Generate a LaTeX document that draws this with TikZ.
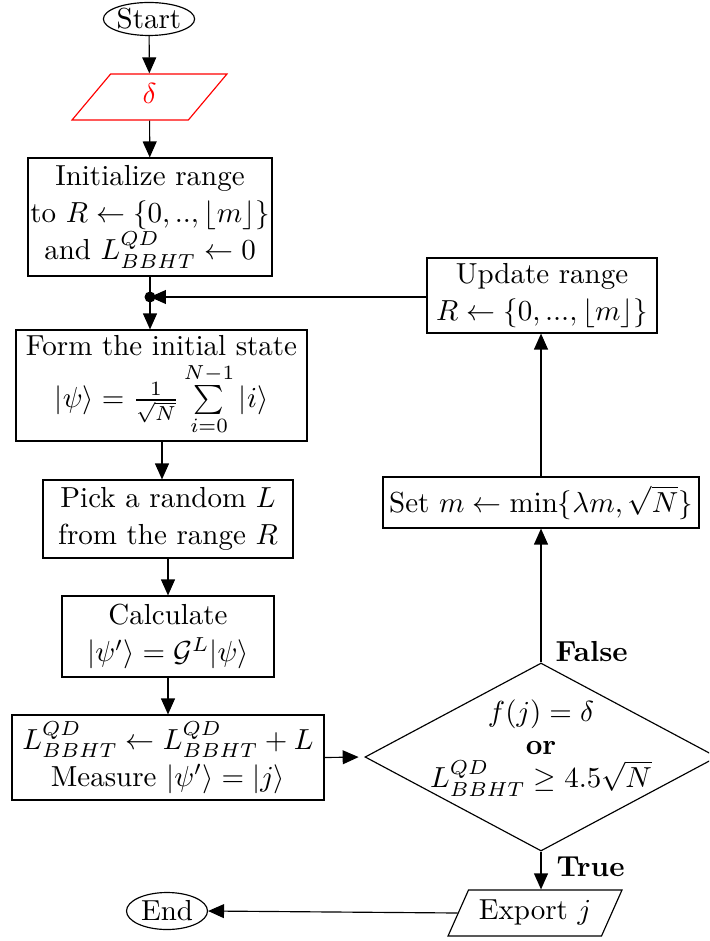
\documentclass[tikz,border=0pt]{standalone}
\usepackage{amsmath,amssymb}
\usetikzlibrary{shapes.geometric,arrows.meta}
\newdimen\pxu \pxu=0.345pt
\begin{document}
\begin{tikzpicture}[x=0.345pt,y=-0.345pt,
  every node/.style={font=\fontsize{10}{12.8}\selectfont},
  procbox/.style={draw,rectangle,align=center,inner sep=0pt},
  term/.style={draw,ellipse,inner sep=0pt},
  iobox/.style={draw,trapezium,trapezium stretches body,inner xsep=0pt,inner ysep=3.2pt,
                text height=7pt,text depth=2.5pt,align=center},
  flow/.style={-{Triangle[length=5.5pt,width=4.8pt]}},
  lbl/.style={font=\fontsize{10}{12}\selectfont\bfseries,inner sep=0pt}]
\useasboundingbox (0,0) rectangle (709,941);
\clip (0,0) rectangle (709,941);

% left column
\node[term,minimum width=82\pxu,minimum height=33\pxu] (start) at (149,19) {Start};
\node[iobox,draw=red,text=red,trapezium left angle=50,trapezium right angle=130,
      minimum width=155\pxu] (delta) at (149.5,97) {$\delta$};
\node[procbox,minimum width=244\pxu,minimum height=118\pxu] (init) at (150,217)
  {Initialize range\\to $R\leftarrow\{0,..,\lfloor m\rfloor\}$\\and $L^{QD}_{BBHT}\leftarrow 0$};
\coordinate (merge) at (150,297);
\node[procbox,minimum width=291\pxu,minimum height=111\pxu] (form) at (161.5,385.5)
  {Form the initial state\\[1.5pt]$|\psi\rangle=\frac{1}{\sqrt{N}}\sum\limits_{i=0}^{N-1}|i\rangle$};
\node[procbox,minimum width=250\pxu,minimum height=78\pxu] (pick) at (168,519)
  {Pick a random $L$\\from the range $R$};
\node[procbox,minimum width=212\pxu,minimum height=81\pxu] (calc) at (168,636.5)
  {Calculate\\$|\psi'\rangle=\mathcal{G}^L|\psi\rangle$};
\node[procbox,minimum width=312\pxu,minimum height=85\pxu] (lupd) at (168,757.5)
  {$L^{QD}_{BBHT}\leftarrow L^{QD}_{BBHT}+L$\\Measure $|\psi'\rangle=|j\rangle$};

% right column: decision diamond with its condition text
\node[draw,diamond,inner sep=0pt,minimum width=352\pxu,minimum height=188\pxu] (test) at (541,757) {};
\node[align=center,inner sep=0pt,font=\fontsize{10}{11.5}\selectfont] (cond) at (541,748)
  {$f(j)=\delta$\\\textbf{or}\\$L^{QD}_{BBHT}\geq 4.5\sqrt{N}$};
\node[procbox,minimum width=316\pxu,minimum height=51\pxu] (setm) at (541,502.5)
  {Set $m\leftarrow\min\{\lambda m,\sqrt{N}\}$};
\node[procbox,minimum width=230\pxu,minimum height=75\pxu] (uprange) at (542,295.5)
  {Update range\\$R\leftarrow\{0,...,\lfloor m\rfloor\}$};
\node[iobox,trapezium left angle=66,trapezium right angle=114,
      minimum width=174\pxu] (export) at (535,913) {Export $j$};
\node[term,minimum width=81\pxu,minimum height=37\pxu] (end) at (167,911) {End};

% connectors
\draw[flow] (start) -- (delta);
\draw[flow] (delta) -- (init);
\draw (init.south) -- (merge);
\fill (merge) circle (5.5);
\draw[flow] (merge) -- (merge |- form.north);
\draw[flow] (form.south -| 162,0) -- (pick.north -| 162,0);
\draw[flow] (pick) -- (calc);
\draw[flow] (calc) -- (lupd);
\draw[flow,shorten >=2pt] (lupd.east) -- (test.west);
\draw[flow] (test.north) -- (setm.south);
\draw[flow] (setm.north) -- (uprange.south -| setm.north);
\draw[flow] (uprange.west |- merge) -- (merge);
\draw[flow] (test.south) -- (export.north -| test.south);
\draw[flow] (export.west) -- (end.east);

% branch labels
\node[lbl,anchor=base west] (flabel) at (555,661) {False};
\node[lbl,anchor=base west] (tlabel) at (556,876) {True};
\end{tikzpicture}
\end{document}
